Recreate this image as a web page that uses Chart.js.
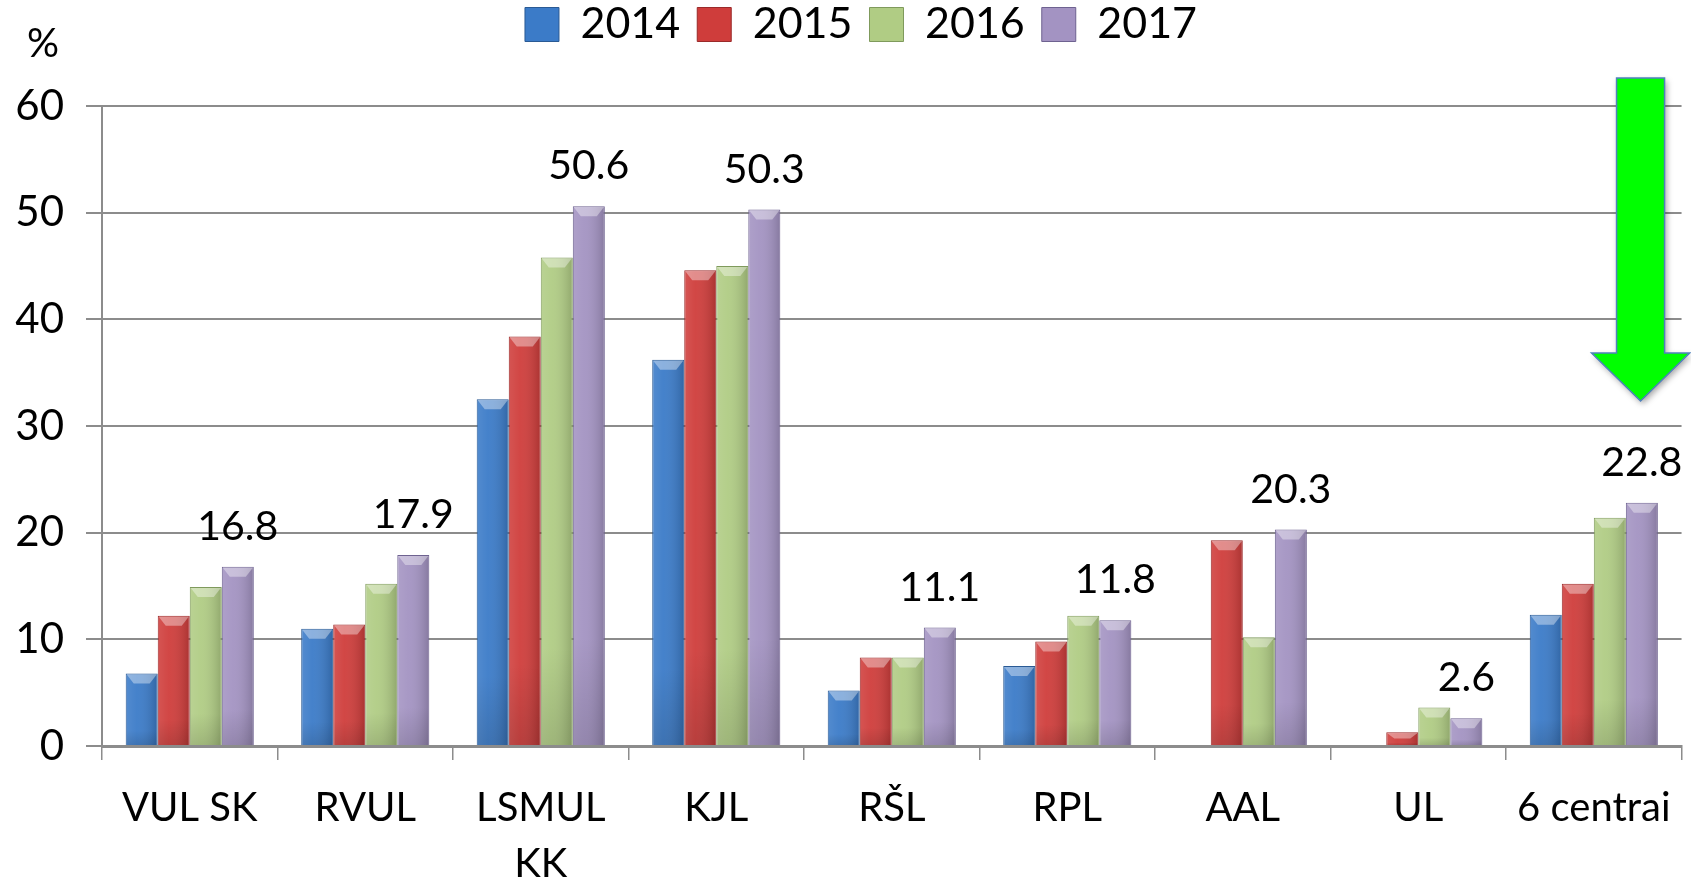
<!DOCTYPE html>
<html>
<head>
<meta charset="utf-8">
<script src="https://cdn.jsdelivr.net/npm/chart.js@4.4.0/dist/chart.umd.min.js"></script>
<style>
  html, body { margin: 0; padding: 0; background: #fff; }
  #wrap { width: 1691px; height: 886px; }
</style>
</head>
<body>
<div id="wrap"><canvas id="myChart"></canvas></div>
<script>
// categories and values
const categories = ['VUL SK', 'RVUL', ['LSMUL', 'KK'], 'KJL', 'RŠL', 'RPL', 'AAL', 'UL', '6 centrai'];
const years = ['2014', '2015', '2016', '2017'];
const values2014 = [6.8, 11.0, 32.5, 36.2, 5.2, 7.5, null, null, 12.3];
const values2015 = [12.2, 11.4, 38.4, 44.6, 8.3, 9.8, 19.3, 1.3, 15.2];
const values2016 = [14.9, 15.2, 45.8, 45.0, 8.3, 12.2, 10.2, 3.6, 21.4];
const values2017 = [16.8, 17.9, 50.6, 50.3, 11.1, 11.8, 20.3, 2.6, 22.8];
const yTicks = [0, 10, 20, 30, 40, 50, 60];

const colors = ['#3b7bc8', '#cf3d3b', '#b0cc84', '#a393c2'];
const borders = ['#2a5a94', '#9a2a2a', '#7f9a5c', '#6e6290'];
const FONT = 'Lato, "Open Sans", sans-serif';

// 3d-ish shading on top of each bar, labels, arrow
const bevelPlugin = {
  id: 'bevel',
  afterInit(chart) {
    // make the legend box taller so the plot starts lower
    const lg = chart.legend;
    const fit = lg.fit;
    lg.fit = function () { fit.call(this); this.height = 120; };
  },
  afterLayout(chart) {
    // legend sits a bit right of the canvas centre
    chart.legend.left += 20;
    chart.legend.right += 20;
  },
  afterDatasetsDraw(chart) {
    const ctx = chart.ctx;
    chart.data.datasets.forEach((ds, i) => {
      const meta = chart.getDatasetMeta(i);
      meta.data.forEach(bar => {
        if (bar.skip || bar.y == null || isNaN(bar.y)) return;
        const w = bar.width, left = bar.x - w / 2, right = bar.x + w / 2;
        const top = bar.y, bottom = bar.base;
        if (bottom - top < 1) return;
        ctx.save();
        const g = ctx.createLinearGradient(left, 0, right, 0);
        g.addColorStop(0, 'rgba(255,255,255,0.12)');
        g.addColorStop(0.35, 'rgba(255,255,255,0.05)');
        g.addColorStop(1, 'rgba(0,0,0,0.18)');
        ctx.fillStyle = g;
        ctx.fillRect(left + 1, top + 1, w - 2, bottom - top - 1);
        const gv = ctx.createLinearGradient(0, top, 0, bottom);
        gv.addColorStop(0, 'rgba(0,0,0,0)');
        gv.addColorStop(0.8, 'rgba(0,0,0,0)');
        gv.addColorStop(1, 'rgba(0,0,0,0.12)');
        ctx.fillStyle = gv;
        ctx.fillRect(left + 1, top + 1, w - 2, bottom - top - 1);
        const bev = Math.min(10, (bottom - top) / 2);
        ctx.beginPath();
        ctx.moveTo(left + 1, top + 1);
        ctx.lineTo(right - 1, top + 1);
        ctx.lineTo(right - w * 0.25, top + bev);
        ctx.lineTo(left + w * 0.25, top + bev);
        ctx.closePath();
        ctx.fillStyle = 'rgba(255,255,255,0.38)';
        ctx.fill();
        ctx.restore();
      });
    });
    // value labels on the 2017 series
    const meta = chart.getDatasetMeta(3);
    ctx.save();
    ctx.font = '41px ' + FONT;
    ctx.fillStyle = '#000';
    ctx.textAlign = 'center';
    ctx.textBaseline = 'middle';
    meta.data.forEach((bar, j) => {
      const v = values2017[j];
      if (v == null) return;
      ctx.fillText(v.toFixed(1), bar.x, bar.y - 40);
    });
    ctx.restore();
  },
  afterDraw(chart) {
    const ctx = chart.ctx;
    const area = chart.chartArea;
    // "%" over the y axis
    ctx.save();
    ctx.font = '40px ' + FONT;
    ctx.fillStyle = '#000';
    ctx.textAlign = 'center';
    ctx.textBaseline = 'middle';
    ctx.fillText('%', 43, 44);
    // green arrow on the right
    const cx = area.right - 41, top = area.top - 28;
    const sw = 24, hw = 49, headTop = area.top + 247, tip = area.top + 295;
    ctx.beginPath();
    ctx.moveTo(cx - sw, top);
    ctx.lineTo(cx + sw, top);
    ctx.lineTo(cx + sw, headTop);
    ctx.lineTo(cx + hw, headTop);
    ctx.lineTo(cx, tip);
    ctx.lineTo(cx - hw, headTop);
    ctx.lineTo(cx - sw, headTop);
    ctx.closePath();
    ctx.shadowColor = 'rgba(0,0,0,0.35)';
    ctx.shadowBlur = 6;
    ctx.shadowOffsetX = 2;
    ctx.shadowOffsetY = 3;
    ctx.fillStyle = '#00ff00';
    ctx.fill();
    ctx.shadowColor = 'transparent';
    ctx.lineWidth = 1.5;
    ctx.strokeStyle = '#4f81bd';
    ctx.stroke();
    ctx.restore();
  }
};

const seriesValues = [values2014, values2015, values2016, values2017];
const data = {
  labels: categories,
  datasets: years.map((y, i) => ({
    label: y,
    data: seriesValues[i],
    backgroundColor: colors[i],
    borderColor: borders[i],
    borderWidth: 1,
    categoryPercentage: 0.73,
    barPercentage: 1.0
  }))
};

const config = {
  type: 'bar',
  data: data,
  plugins: [bevelPlugin],
  options: {
    responsive: true,
    maintainAspectRatio: false,
    animation: false,
    layout: { padding: { left: 0, right: 9, top: -14, bottom: 0 } },
    plugins: {
      legend: {
        position: 'top',
        labels: {
          font: { family: FONT, size: 43 },
          color: '#000',
          boxWidth: 34,
          boxHeight: 34,
          padding: 17
        }
      },
      tooltip: { enabled: false }
    },
    scales: {
      x: {
        grid: {
          display: true,
          drawOnChartArea: false,
          drawTicks: true,
          tickLength: 14,
          color: '#8c8c8c',
          lineWidth: 1.5,
          offset: true
        },
        border: { color: '#8c8c8c', width: 3 },
        ticks: {
          font: { family: FONT, size: 40, lineHeight: 1.4 },
          color: '#000',
          padding: 20,
          maxRotation: 0,
          autoSkip: false
        },
        afterFit(scale) { scale.height = 140; }
      },
      y: {
        min: 0,
        max: 60,
        afterBuildTicks(scale) { scale.ticks = yTicks.map(v => ({ value: v })); },
        grid: {
          color: '#8c8c8c',
          lineWidth: 2,
          tickLength: 16
        },
        border: { color: '#8c8c8c', width: 2 },
        ticks: {
          font: { family: FONT, size: 42 },
          color: '#000',
          padding: 22
        },
        afterFit(scale) { scale.width = 102; }
      }
    }
  }
};

const myChart = new Chart(document.getElementById('myChart'), config);
</script>
</body>
</html>
